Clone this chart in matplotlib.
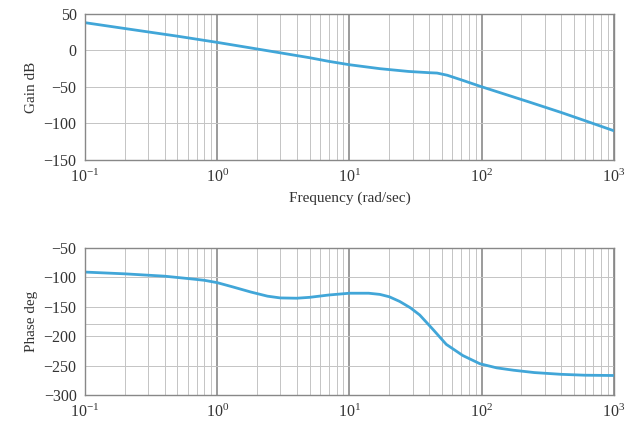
import numpy as np
import matplotlib
matplotlib.use("Agg")
import matplotlib.pyplot as plt
from matplotlib.ticker import LogLocator, NullFormatter

plt.rcParams['font.family'] = ['Liberation Serif', 'DejaVu Serif']
plt.rcParams['mathtext.fontset'] = 'stix'

# values
gain_freq = [0.1, 0.2, 0.5, 1, 2, 5, 7, 10, 17, 28, 40, 46, 55, 72, 97, 150, 232, 400, 600, 1000]
gain_db = [38, 30, 19.5, 11, 2, -10, -15, -19.6, -25, -28.8, -30.5, -31, -34, -41, -49, -60,
           -71, -85, -96, -110]

phase_freq = [0.1, 0.2, 0.4, 0.6, 0.8, 1, 1.3, 1.8, 2.4, 3, 4, 5, 7, 10, 14, 17, 20, 24, 29,
              34, 43, 54, 72, 97, 130, 174, 250, 400, 600, 1000]
phase_deg = [-91, -94, -98, -102, -105, -109, -116, -125, -132, -135, -135.5, -134, -130, -127,
             -127, -129, -133, -141, -152, -164, -189, -214, -233, -247, -254, -258, -262,
             -265, -266.5, -267]

gain_ticks = [50, 0, -50, -100, -150]
phase_ticks = [-50, -100, -150, -200, -250, -300]

line_col = '#41a6d8'

fig = plt.figure(figsize=(6.29, 4.21), dpi=100)
ax1 = fig.add_axes([0.135, 0.620, 0.841, 0.347])
ax2 = fig.add_axes([0.135, 0.062, 0.841, 0.349])


def style(ax, yticks, extra=None):
    ax.set_xscale('log')
    ax.set_xlim(0.1, 1000)
    ax.set_ylim(min(yticks), max(yticks))
    ax.set_yticks(yticks)
    ax.xaxis.set_major_locator(LogLocator(base=10, numticks=10))
    ax.xaxis.set_minor_locator(LogLocator(base=10, subs=np.arange(2, 10), numticks=20))
    ax.xaxis.set_minor_formatter(NullFormatter())
    ax.grid(True, which='major', axis='x', color='#808080', lw=1.1)
    ax.grid(True, which='minor', axis='x', color='#c4c4c4', lw=0.7)
    ax.grid(True, which='major', axis='y', color='#c4c4c4', lw=0.7)
    if extra is not None:
        for v in extra:
            ax.axhline(v, color='#c4c4c4', lw=0.7, zorder=0)
    ax.tick_params(which='both', length=0, labelsize=11.5, colors='#333333', pad=6)
    for s in ax.spines.values():
        s.set_color('#888888')
        s.set_linewidth(1.0)
    ax.set_axisbelow(True)


style(ax1, gain_ticks)
ax1.plot(gain_freq, gain_db, color=line_col, lw=2)
ax1.set_ylabel('Gain dB', fontsize=11, color='#333333')
ax1.set_xlabel('Frequency (rad/sec)', fontsize=11, color='#333333', labelpad=4)

style(ax2, phase_ticks, extra=[-180])
ax2.plot(phase_freq, phase_deg, color=line_col, lw=2)
ax2.set_ylabel('Phase deg', fontsize=11, color='#333333')

fig.savefig('out.png', dpi=100)
